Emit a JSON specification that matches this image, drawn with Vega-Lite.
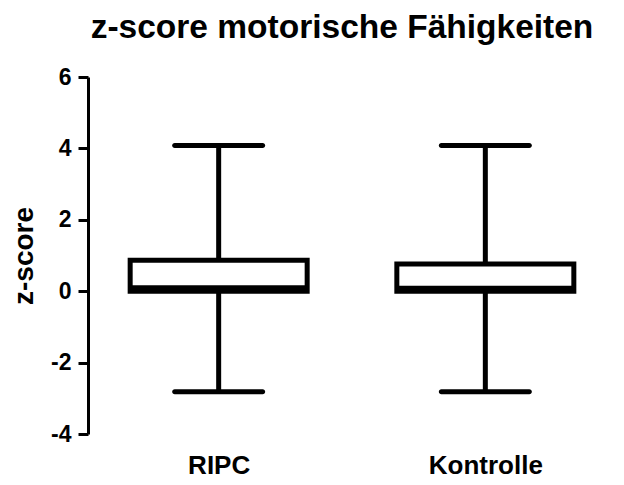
{
  "$schema": "https://vega.github.io/schema/vega-lite/v6.json",
  "width": 528,
  "height": 357,
  "autosize": {"type": "none"},
  "padding": {"left": 88, "top": 77, "right": 8, "bottom": 51},
  "title": {"text": "z-score motorische Fähigkeiten", "font": "Liberation Sans", "fontSize": 33.5, "fontWeight": "bold", "color": "black", "anchor": "middle", "offset": 21, "dx": -10},
  "data": {"values": [
    {"group": "RIPC", "min": -2.82, "q1": 0, "median": 0.1, "q3": 0.87, "max": 4.08},
    {"group": "Kontrolle", "min": -2.82, "q1": 0, "median": 0.08, "q3": 0.76, "max": 4.08}
  ]},
  "encoding": {
    "x": {"field": "group", "type": "nominal", "sort": ["RIPC", "Kontrolle"], "scale": {"type": "point", "padding": 0.49}, "title": null}
  },
  "layer": [
    {"mark": {"type": "rule", "color": "black", "strokeWidth": 3},
     "encoding": {"y": {"datum": 0, "type": "quantitative", "title": "z-score", "scale": {"domain": [-4, 6], "nice": false},
       "axis": {"values": [-4, -2, 0, 2, 4, 6], "labelExpr": "toString(datum.value)", "grid": false, "domainColor": "black", "domainWidth": 3, "tickColor": "black", "tickWidth": 3, "tickSize": 10, "labelPadding": 7, "labelFont": "Liberation Sans", "labelFontSize": 23, "labelFontWeight": "bold", "labelColor": "black", "titleFont": "Liberation Sans", "titleFontSize": 28, "titleFontWeight": "bold", "titleColor": "black", "titlePadding": 12}}}},
    {"mark": {"type": "rule", "color": "black", "strokeWidth": 5},
     "encoding": {
       "y": {"field": "min", "type": "quantitative", "title": "z-score", "scale": {"domain": [-4, 6], "nice": false},
         "axis": {"values": [-4, -2, 0, 2, 4, 6], "labelExpr": "toString(datum.value)", "grid": false, "domainColor": "black", "domainWidth": 3, "tickColor": "black", "tickWidth": 3, "tickSize": 10, "labelPadding": 7, "labelFont": "Liberation Sans", "labelFontSize": 23, "labelFontWeight": "bold", "labelColor": "black", "titleFont": "Liberation Sans", "titleFontSize": 28, "titleFontWeight": "bold", "titleColor": "black", "titlePadding": 12}},
       "y2": {"field": "max"}
     }},
    {"mark": {"type": "bar", "fill": "white", "stroke": "black", "strokeWidth": 5, "size": 177},
     "encoding": {"y": {"field": "q1", "type": "quantitative", "title": "z-score"}, "y2": {"field": "q3"}}},
    {"mark": {"type": "tick", "color": "black", "opacity": 1, "size": 177, "thickness": 5},
     "encoding": {"y": {"field": "median", "type": "quantitative", "title": "z-score"}}},
    {"mark": {"type": "tick", "color": "black", "opacity": 1, "size": 93, "thickness": 5, "cornerRadius": 2.5},
     "encoding": {"y": {"field": "min", "type": "quantitative", "title": "z-score"}}},
    {"mark": {"type": "tick", "color": "black", "opacity": 1, "size": 93, "thickness": 5, "cornerRadius": 2.5},
     "encoding": {"y": {"field": "max", "type": "quantitative", "title": "z-score"}}}
  ],
  "config": {
    "view": {"stroke": null},
    "background": "white",
    "axisY": {"labelExpr": "toString(datum.value)", "grid": false, "domainColor": "black", "domainWidth": 3, "tickColor": "black", "tickWidth": 3, "tickSize": 10, "labelPadding": 7, "labelFont": "Liberation Sans", "labelFontSize": 23, "labelFontWeight": "bold", "labelColor": "black", "titleFont": "Liberation Sans", "titleFontSize": 28, "titleFontWeight": "bold", "titleColor": "black", "titlePadding": 12},
    "axisX": {"domain": false, "ticks": false, "grid": false, "labelAngle": 0, "labelPadding": 18, "labelFont": "Liberation Sans", "labelFontSize": 26, "labelFontWeight": "bold", "labelColor": "black"}
  }
}
